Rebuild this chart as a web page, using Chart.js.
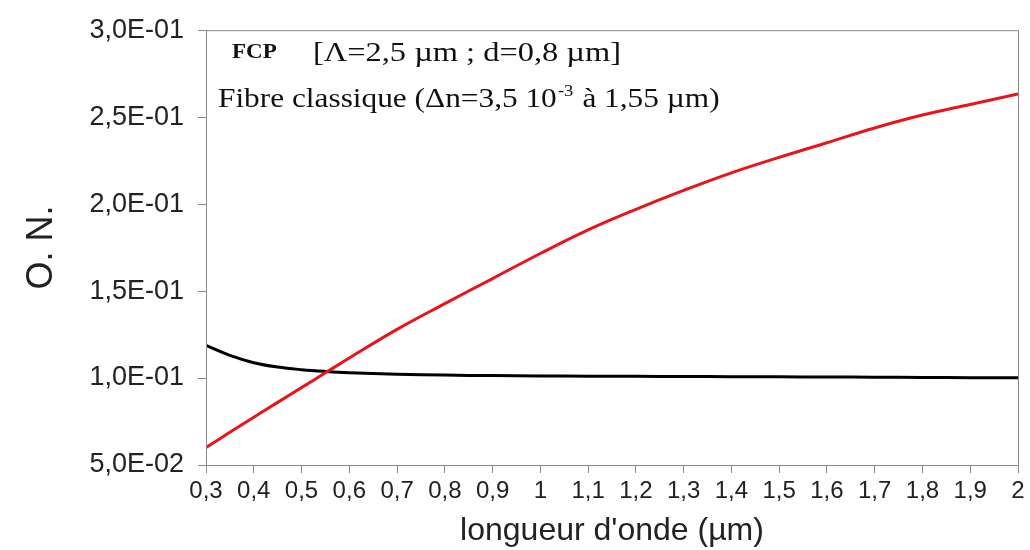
<!DOCTYPE html>
<html lang="fr">
<head>
  <meta charset="UTF-8" />
  <title>O. N. vs longueur d'onde</title>
  <script src="https://cdn.jsdelivr.net/npm/chart.js"></script>
  <style>
    body {
      margin: 0;
      background: #fff;
    }
    canvas {
      display: block;
    }
  </style>
</head>
<body>
  <canvas id="onChart" width="1030" height="550"></canvas>

  <script>
    // wavelength (µm)
    const lambda = [0.3, 0.35, 0.4, 0.45, 0.5, 0.55, 0.6, 0.7, 0.8, 0.9, 1.0, 1.1, 1.2, 1.3, 1.4, 1.5, 1.6, 1.7, 1.8, 1.9, 2.0];
    // FCP (red)
    const onFcp = [0.060, 0.0688, 0.0775, 0.086, 0.0945, 0.1030, 0.1115, 0.128, 0.1428, 0.1572, 0.1716, 0.1852, 0.1970, 0.2079, 0.2180, 0.2269, 0.2353, 0.2438, 0.2512, 0.2573, 0.2633];
    // fibre classique (black)
    const onClassique = [0.1188, 0.1130, 0.1088, 0.1063, 0.1048, 0.1038, 0.1031, 0.1022, 0.1017, 0.1014, 0.1012, 0.1011, 0.1010, 0.1009, 0.1008, 0.1007, 0.1006, 0.1005, 0.1003, 0.1002, 0.1001];

    const xTicks = [0.3, 0.4, 0.5, 0.6, 0.7, 0.8, 0.9, 1, 1.1, 1.2, 1.3, 1.4, 1.5, 1.6, 1.7, 1.8, 1.9, 2];
    const yTicks = [0.05, 0.10, 0.15, 0.20, 0.25, 0.30];

    function fmtX(v) {
      return String(Number(v.toFixed(1))).replace('.', ',');
    }

    function fmtY(v) {
      const e = Math.floor(Math.log10(v) + 1e-9);
      const m = (v / Math.pow(10, e)).toFixed(1).replace('.', ',');
      const ee = Math.abs(e) < 10 ? '0' + Math.abs(e) : String(Math.abs(e));
      return m + 'E' + (e < 0 ? '-' : '+') + ee;
    }

    // frame around the plot + text block in the top left
    const framePlugin = {
      id: 'frame',
      afterDraw(chart) {
        const { ctx, chartArea: a } = chart;
        ctx.save();
        ctx.strokeStyle = '#8a8a8a';
        ctx.lineWidth = 1;
        ctx.strokeRect(a.left + 0.5, a.top + 0.5, a.right - a.left, a.bottom - a.top);

        ctx.fillStyle = '#111';
        ctx.textBaseline = 'alphabetic';

        ctx.save();
        ctx.translate(232, 58);
        ctx.scale(1.15, 1);
        ctx.font = 'bold 20px "Liberation Serif"';
        ctx.fillText('FCP', 0, 0);
        ctx.restore();

        ctx.save();
        ctx.translate(313, 61);
        ctx.scale(1.2, 1);
        ctx.font = '27px "Liberation Serif"';
        ctx.fillText('[\u039B=2,5 \u00B5m ; d=0,8 \u00B5m]', 0, 0);
        ctx.restore();

        ctx.save();
        ctx.translate(218, 107);
        ctx.scale(1.16, 1);
        ctx.font = '27px "Liberation Serif"';
        let s = 'Fibre classique (\u0394n=3,5 10';
        ctx.fillText(s, 0, 0);
        let x = ctx.measureText(s).width;
        ctx.font = '16px "Liberation Serif"';
        ctx.fillText('-3', x + 1, -11);
        x += ctx.measureText('-3').width + 2;
        ctx.font = '27px "Liberation Serif"';
        ctx.fillText(' \u00E0 1,55 \u00B5m)', x, 0);
        ctx.restore();

        ctx.restore();
      }
    };

    const ctx = document.getElementById('onChart').getContext('2d');

    new Chart(ctx, {
      type: 'line',
      data: {
        datasets: [
          {
            label: 'FCP',
            data: lambda.map((l, i) => ({ x: l, y: onFcp[i] })),
            borderColor: '#e8141b',
            borderWidth: 3,
            pointRadius: 0,
            tension: 0.4,
            fill: false
          },
          {
            label: 'Fibre classique',
            data: lambda.map((l, i) => ({ x: l, y: onClassique[i] })),
            borderColor: '#000',
            borderWidth: 3,
            pointRadius: 0,
            tension: 0.4,
            fill: false
          }
        ]
      },
      options: {
        responsive: false,
        animation: false,
        layout: { padding: { top: 22, right: 12, left: 0, bottom: 0 } },
        plugins: {
          legend: { display: false },
          tooltip: { enabled: false }
        },
        scales: {
          x: {
            type: 'linear',
            min: 0.3,
            max: 2,
            afterBuildTicks: (axis) => { axis.ticks = xTicks.map(v => ({ value: v })); },
            afterFit: (axis) => { axis.height = 85; },
            ticks: {
              callback: (v) => fmtX(v),
              autoSkip: false,
              maxRotation: 0,
              padding: 4,
              color: '#222',
              font: { family: '"Liberation Sans"', size: 24 }
            },
            grid: {
              drawOnChartArea: false,
              drawTicks: true,
              tickLength: 8,
              color: '#8a8a8a'
            },
            border: { color: '#8a8a8a' },
            title: {
              display: true,
              text: "longueur d'onde (\u00B5m)",
              color: '#222',
              font: { family: '"Liberation Sans"', size: 32 },
              padding: { top: 0, bottom: 0 }
            }
          },
          y: {
            min: 0.05,
            max: 0.3,
            afterBuildTicks: (axis) => { axis.ticks = yTicks.map(v => ({ value: v })); },
            afterFit: (axis) => { axis.width = 206; },
            ticks: {
              callback: (v) => fmtY(v),
              padding: 14,
              color: '#222',
              font: { family: '"Liberation Sans"', size: 27 }
            },
            grid: {
              drawOnChartArea: false,
              drawTicks: true,
              tickLength: 8,
              color: '#8a8a8a'
            },
            border: { color: '#8a8a8a' },
            title: {
              display: true,
              text: 'O. N.',
              color: '#222',
              font: { family: '"Liberation Sans"', size: 36 },
              padding: { top: 20, bottom: 0 }
            }
          }
        }
      },
      plugins: [framePlugin]
    });
  </script>
</body>
</html>
